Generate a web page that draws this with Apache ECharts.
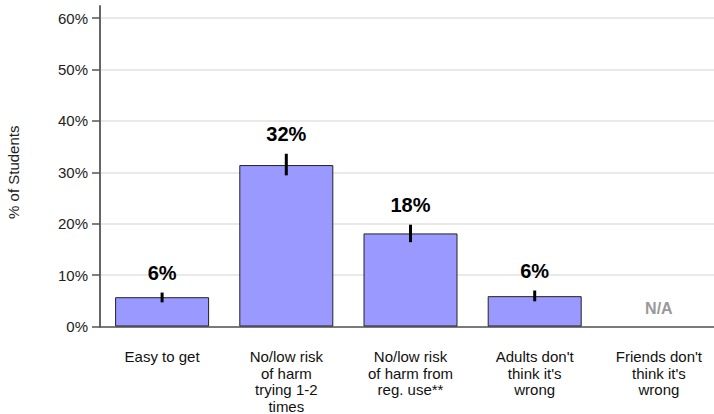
<!DOCTYPE html>
<html>
<head>
<meta charset="utf-8">
<script src="https://cdn.jsdelivr.net/npm/echarts@6/dist/echarts.min.js"></script>
<style>
html,body{margin:0;padding:0;background:#fff;}
#chart{width:714px;height:414px;}
</style>
</head>
<body>
<div id="chart"></div>
<script>
var categories = ["Easy to get", "No/low risk\nof harm\ntrying 1-2\ntimes", "No/low risk\nof harm from\nreg. use**", "Adults don't\nthink it's\nwrong", "Friends don't\nthink it's\nwrong"];
var values = [5.7, 31.4, 18.1, 5.9, null];
var errLow = [4.7, 29.4, 16.4, 4.9, null];
var errHigh = [6.6, 33.6, 19.8, 7.0, null];
var valueLabels = ["6%", "32%", "18%", "6%", "N/A"];
var yTicks = [0, 10, 20, 30, 40, 50, 60];

var FONT = '"Liberation Sans", Arial, sans-serif';
var chart = echarts.init(document.getElementById('chart'), null, {renderer: 'svg'});

var customData = categories.map(function (c, i) {
  return [i, values[i], errLow[i], errHigh[i]];
});

var option = {
  animation: false,
  backgroundColor: '#ffffff',
  grid: [
    {left: 100, right: -7, top: 18, bottom: 87.5, outerBoundsMode: 'none', containLabel: false},
    {left: 100, right: -7, top: 6, bottom: 87.5, outerBoundsMode: 'none', containLabel: false}
  ],
  xAxis: [
    {
      type: 'category', gridIndex: 0, data: categories,
      axisLine: {lineStyle: {color: '#555', width: 1.5}},
      axisTick: {show: false},
      axisLabel: {color: '#111', fontFamily: FONT, fontSize: 15, lineHeight: 16.5, margin: 22, interval: 0}
    },
    {type: 'category', gridIndex: 1, data: categories, show: false}
  ],
  yAxis: [
    {
      type: 'value', gridIndex: 0, min: yTicks[0], max: yTicks[yTicks.length - 1], interval: 10,
      name: '% of Students', nameLocation: 'middle', nameGap: 79,
      nameTextStyle: {color: '#222', fontFamily: FONT, fontSize: 15},
      axisLine: {show: true, lineStyle: {color: '#666', width: 2}},
      axisTick: {show: true, length: 8, lineStyle: {color: '#555', width: 1.5}},
      axisLabel: {color: '#222', fontFamily: FONT, fontSize: 15, margin: 12, formatter: '{value}%'},
      splitLine: {show: true, lineStyle: {color: '#e2e2e2', width: 1.5}}
    },
    {
      type: 'value', gridIndex: 1,
      axisLine: {show: true, lineStyle: {color: '#666', width: 2}},
      axisTick: {show: false}, axisLabel: {show: false}, splitLine: {show: false}
    }
  ],
  series: [
    {
      type: 'bar', xAxisIndex: 0, yAxisIndex: 0,
      data: values, barWidth: 94,
      itemStyle: {color: '#9999FF', borderColor: '#222', borderWidth: 1}
    },
    {
      type: 'custom', xAxisIndex: 0, yAxisIndex: 0,
      data: customData,
      z: 5,
      renderItem: function (params, api) {
        var i = api.value(0);
        var v = api.value(1);
        var label = valueLabels[i];
        if (v == null || isNaN(v)) {
          var base = api.coord([i, 0]);
          return {
            type: 'text',
            style: {x: base[0], y: base[1] - 18, text: label, fill: '#999', font: 'bold 16px ' + FONT, align: 'center', verticalAlign: 'middle'}
          };
        }
        var lo = api.coord([i, api.value(2)]);
        var hi = api.coord([i, api.value(3)]);
        return {
          type: 'group',
          children: [
            {type: 'line', shape: {x1: lo[0], y1: lo[1], x2: hi[0], y2: hi[1]}, style: {stroke: '#000', lineWidth: 3}},
            {type: 'text', style: {x: hi[0], y: hi[1] - 20, text: label, fill: '#000', font: 'bold 20px ' + FONT, align: 'center', verticalAlign: 'middle'}}
          ]
        };
      }
    }
  ]
};
chart.setOption(option);
</script>
</body>
</html>
